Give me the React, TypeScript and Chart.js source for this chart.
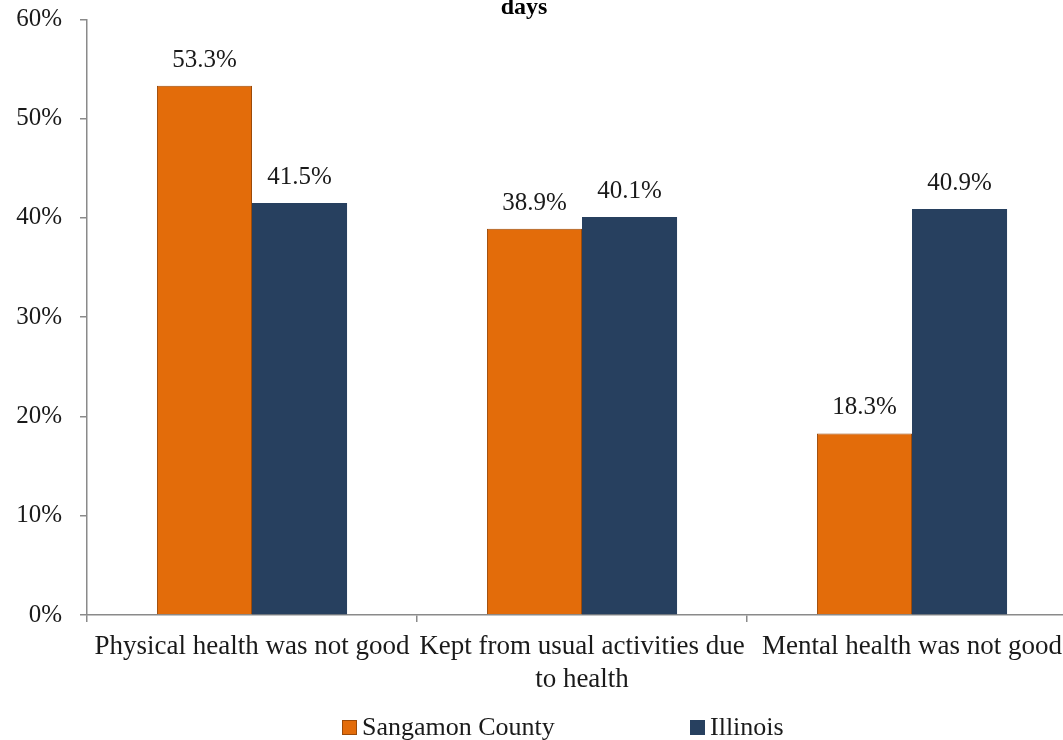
import React, { useEffect, useRef } from "react";
import { Chart, registerables } from "chart.js";

Chart.register(...registerables);

const titleText = "days";
const categories: string[][] = [
  ["Physical health was not good"],
  ["Kept from usual activities due", "to health"],
  ["Mental health was not good"],
];
const seriesNames = ["Sangamon County", "Illinois"];
const sangamonValues = [53.3, 38.9, 18.3];
const illinoisValues = [41.5, 40.1, 40.9];
const yTickValues = [0, 10, 20, 30, 40, 50, 60];

const ORANGE = "#E36C0A";
const ORANGE_BORDER = "#9C4A08";
const BLUE = "#27405F";
const AXIS = "#8A8A8A";
const FONT = "'Liberation Serif', 'Times New Roman', serif";
const SHIFT = 5;

const titlePlugin = {
  id: "topTitle",
  afterDraw(chart: any) {
    const ctx = chart.ctx;
    ctx.save();
    ctx.font = `bold 24px ${FONT}`;
    ctx.fillStyle = "#000";
    ctx.textAlign = "center";
    ctx.textBaseline = "alphabetic";
    ctx.fillText(titleText, 524, 14 + SHIFT);
    ctx.restore();
  },
};

const valueLabelPlugin = {
  id: "valueLabels",
  afterDatasetsDraw(chart: any) {
    const ctx = chart.ctx;
    ctx.save();
    ctx.font = `25px ${FONT}`;
    ctx.fillStyle = "#1a1a1a";
    ctx.textAlign = "center";
    ctx.textBaseline = "alphabetic";
    chart.data.datasets.forEach((ds: any, di: number) => {
      const meta = chart.getDatasetMeta(di);
      meta.data.forEach((bar: any, i: number) => {
        const v = ds.data[i];
        ctx.fillText(v.toFixed(1) + "%", bar.x, bar.y - 19);
      });
    });
    ctx.restore();
  },
};

const legendPlugin = {
  id: "bottomLegend",
  afterDraw(chart: any) {
    const ctx = chart.ctx;
    const starts = [342, 690];
    const boxTop = 720 + SHIFT;
    const size = 15;
    ctx.save();
    ctx.font = `26px ${FONT}`;
    ctx.textAlign = "left";
    ctx.textBaseline = "alphabetic";
    chart.data.datasets.forEach((ds: any, di: number) => {
      const x = starts[di];
      ctx.fillStyle = ds.backgroundColor;
      ctx.fillRect(x, boxTop, size, size);
      if (ds.borderWidth > 0) {
        ctx.strokeStyle = ds.borderColor;
        ctx.lineWidth = 1;
        ctx.strokeRect(x + 0.5, boxTop + 0.5, size - 1, size - 1);
      }
      ctx.fillStyle = "#1a1a1a";
      ctx.fillText(ds.label, x + 20, 735 + SHIFT);
    });
    ctx.restore();
  },
};

export default function App() {
  const canvasRef = useRef<HTMLCanvasElement | null>(null);

  useEffect(() => {
    if (!canvasRef.current) return;
    const chart = new Chart(canvasRef.current, {
      type: "bar",
      data: {
        labels: categories,
        datasets: [
          {
            label: seriesNames[0],
            data: sangamonValues,
            backgroundColor: ORANGE,
            borderColor: ORANGE_BORDER,
            borderWidth: 1,
            categoryPercentage: 0.576,
            barPercentage: 1,
          },
          {
            label: seriesNames[1],
            data: illinoisValues,
            backgroundColor: BLUE,
            borderColor: BLUE,
            borderWidth: 0,
            categoryPercentage: 0.576,
            barPercentage: 1,
          },
        ],
      },
      options: {
        responsive: false,
        animation: false,
        layout: { padding: { left: 0, right: 13, top: 14, bottom: 41 } },
        plugins: {
          legend: { display: false },
          title: { display: false },
          tooltip: { enabled: false },
        },
        scales: {
          x: {
            offset: true,
            grid: {
              display: true,
              drawOnChartArea: false,
              drawTicks: true,
              tickLength: 7,
              color: AXIS,
              lineWidth: 1.5,
              offset: true,
            },
            border: { display: true, color: AXIS, width: 1.5 },
            ticks: {
              color: "#1a1a1a",
              padding: 8,
              maxRotation: 0,
              autoSkip: false,
              font: { family: FONT, size: 27, lineHeight: 1.22 },
            },
          },
          y: {
            min: 0,
            max: 60,
            afterFit: (s: any) => {
              s.width = 87;
            },
            afterBuildTicks: (s: any) => {
              s.ticks = yTickValues.map((v) => ({ value: v }));
            },
            grid: {
              display: true,
              drawOnChartArea: false,
              drawTicks: true,
              tickLength: 7,
              color: AXIS,
              lineWidth: 1.5,
            },
            border: { display: true, color: AXIS, width: 1.5 },
            ticks: {
              color: "#1a1a1a",
              padding: 18,
              font: { family: FONT, size: 25, lineHeight: 0.5 },
              callback: (v: any) => v + "%",
            },
          },
        },
      },
      plugins: [titlePlugin, valueLabelPlugin, legendPlugin],
    });
    return () => chart.destroy();
  }, []);

  return (
    <div
      style={{
        position: "fixed",
        left: 0,
        top: 0,
        width: 1063,
        height: 740,
        overflow: "hidden",
        background: "#fff",
      }}
    >
      <canvas
        ref={canvasRef}
        width={1090}
        height={750}
        style={{
          width: 1090,
          height: 750,
          display: "block",
          position: "absolute",
          left: 0,
          top: -SHIFT,
        }}
      />
    </div>
  );
}
